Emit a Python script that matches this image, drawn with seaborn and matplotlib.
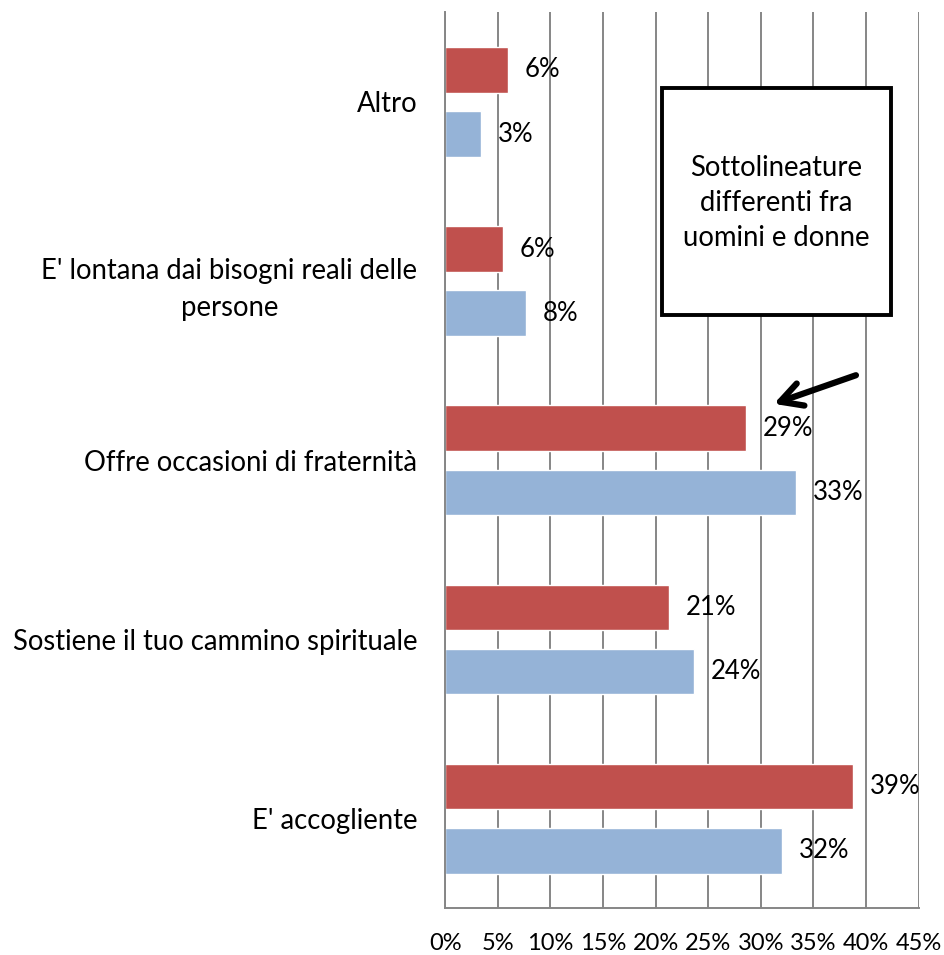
import pandas as pd
import seaborn as sns
import matplotlib.pyplot as plt
from matplotlib.ticker import PercentFormatter

# Values (percent)
categories = ["Altro",
              "E' lontana dai bisogni reali delle\npersone",
              "Offre occasioni di fraternità",
              "Sostiene il tuo cammino spirituale",
              "E' accogliente"]
series_names = ["Rosso", "Azzurro"]
red_values = [6.0, 5.5, 28.6, 21.3, 38.8]
blue_values = [3.4, 7.7, 33.4, 23.7, 32.0]
red_labels = ["6%", "6%", "29%", "21%", "39%"]
blue_labels = ["3%", "8%", "33%", "24%", "32%"]
x_ticks = [0, 5, 10, 15, 20, 25, 30, 35, 40, 45]

df = pd.DataFrame({
    "categoria": categories * 2,
    "serie": [series_names[0]] * len(categories) + [series_names[1]] * len(categories),
    "valore": red_values + blue_values,
})

sns.set_theme(style="white")
plt.rcParams['font.family'] = ['Lato', 'DejaVu Sans']
plt.rcParams['text.color'] = 'black'

fig = plt.figure(figsize=(9.45, 9.55), dpi=100)
ax = fig.add_axes([0.471, 0.049, 0.501, 0.938])

sns.barplot(data=df, y="categoria", x="valore", hue="serie",
            order=categories, hue_order=series_names,
            palette=["#C0504D", "#95B3D7"], width=0.717, gap=0.29,
            legend=False, ax=ax, orient="h", saturation=1)

all_labels = [red_labels, blue_labels]
for cont, labs in zip(ax.containers, all_labels):
    ax.bar_label(cont, labels=labs, padding=12, fontsize=18.5, color="black")

ax.set_xlim(0, 45)
ax.set_xticks(x_ticks)
ax.xaxis.set_major_formatter(PercentFormatter(decimals=0))
ax.xaxis.grid(True, color="#868686", linewidth=1.4)
ax.set_axisbelow(True)
ax.set_xlabel("")
ax.set_ylabel("")
ax.tick_params(axis="x", labelsize=17, pad=18, length=0, colors="black")
ax.tick_params(axis="y", labelsize=19.8, pad=20, length=0, colors="black")
for lab in ax.get_yticklabels():
    lab.set_multialignment("center")
    lab.set_linespacing(1.55)

for side in ["top", "right"]:
    ax.spines[side].set_visible(False)
for side in ["left", "bottom"]:
    ax.spines[side].set_color("#868686")
    ax.spines[side].set_linewidth(1.4)

# Text box with the note
box = plt.Rectangle((662 / 945, 1 - 315 / 955), 229 / 945, 227 / 955,
                    transform=fig.transFigure, fc="white", ec="black", lw=2.8, zorder=3)
fig.patches.append(box)
fig.text(776 / 945, 1 - 203 / 955, "Sottolineature\ndifferenti fra\nuomini e donne",
         ha="center", va="center", fontsize=19.8, linespacing=1.45, color="black", zorder=4)

# Arrow pointing at the red bar of "Offre occasioni di fraternità"
ax.annotate("", xy=(31.0, 2.0 - 0.31), xytext=(39.3, 2.0 - 0.48),
            xycoords="data",
            arrowprops=dict(arrowstyle="->,head_length=1.3,head_width=0.7", lw=4.5, color="black"))

fig.savefig("out.png", dpi=100)
